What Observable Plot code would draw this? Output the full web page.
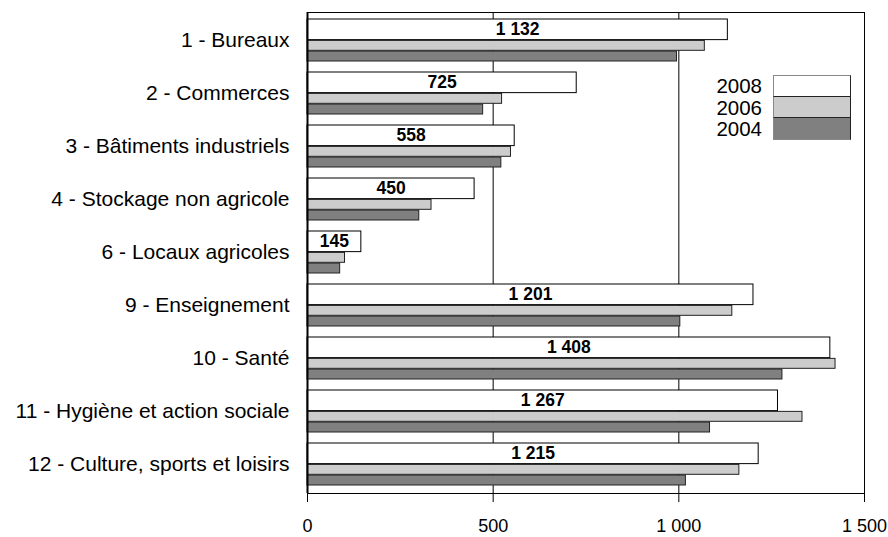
<!DOCTYPE html>
<html>
<head>
<meta charset="utf-8">
<script src="https://cdn.jsdelivr.net/npm/d3@7"></script>
<script src="https://cdn.jsdelivr.net/npm/@observablehq/plot@0.6"></script>
<style>
  html, body { margin: 0; padding: 0; background: #fff; }
  #wrap { position: relative; width: 888px; height: 537px; font-family: "Liberation Sans", Arial, Helvetica, sans-serif; }
  #legend { position: absolute; left: 700px; top: 75px; }
  .lrow { display: flex; align-items: center; height: 21.4px; }
  .ltxt { width: 62px; text-align: right; font-size: 20.5px; padding-right: 11px; color: #000; line-height: 21px; }
  .lsw { width: 76px; height: 20.4px; border-left: 1px solid #888; border-right: 1px solid #222; border-top: 1px solid #222; box-sizing: content-box; }
</style>
</head>
<body>
<div id="wrap"></div>
<script>
const categories = [
  "1 - Bureaux",
  "2 - Commerces",
  "3 - Bâtiments industriels",
  "4 - Stockage non agricole",
  "6 - Locaux agricoles",
  "9 - Enseignement",
  "10 - Santé",
  "11 - Hygiène et action sociale",
  "12 - Culture, sports et loisirs"
];
const v2008 = [1132, 725, 558, 450, 145, 1201, 1408, 1267, 1215];
const v2006 = [1070, 524, 548, 334, 101, 1144, 1422, 1333, 1163];
const v2004 = [995, 473, 522, 301, 88, 1004, 1279, 1084, 1019];
const years = ["2008", "2006", "2004"];
const colors = ["#ffffff", "#cccccc", "#808080"];
const xTicks = [0, 500, 1000, 1500];

const W = 888, H = 537;
const mTop = 12, mBottom = 44, mLeft = 307, mRight = 24;
const padIn = 0.2, padOut = 0.1;
const step = (H - mTop - mBottom) / (categories.length - padIn + 2 * padOut);
const bw = step * (1 - padIn);

const locale = d3.formatLocale({decimal: ",", thousands: "\u00a0", grouping: [3], currency: ["", " €"]});
const fmt = locale.format(",d");

const rows = categories.map((c, i) => ({cat: c, a: v2008[i], b: v2006[i], c4: v2004[i]}));

const chart = Plot.plot({
  width: W,
  height: H,
  marginTop: mTop,
  marginBottom: mBottom,
  marginLeft: mLeft,
  marginRight: mRight,
  style: {fontFamily: "'Liberation Sans', Arial, Helvetica, sans-serif", background: "#fff", color: "#000"},
  x: {domain: [0, 1500], ticks: xTicks, tickFormat: fmt},
  y: {domain: categories, paddingInner: padIn, paddingOuter: padOut},
  marks: [
    Plot.ruleX([500, 1000], {stroke: "#000", strokeWidth: 1}),
    Plot.barX(rows, {y: "cat", x: "c4", fill: colors[2], stroke: "#222", strokeWidth: 1, insetTop: bw * 0.75, insetBottom: 0}),
    Plot.barX(rows, {y: "cat", x: "b", fill: colors[1], stroke: "#222", strokeWidth: 1, insetTop: bw * 0.5, insetBottom: bw * 0.25}),
    Plot.barX(rows, {y: "cat", x: "a", fill: colors[0], stroke: "#000", strokeWidth: 1, insetTop: 0, insetBottom: bw * 0.5}),
    Plot.text(rows, {y: "cat", x: d => d.a / 2, text: d => fmt(d.a), dy: -bw / 4, fontWeight: "bold", fontSize: 17.5, fill: "#000"}),
    Plot.frame({stroke: "#000", strokeWidth: 1}),
    Plot.ruleX([0], {stroke: "#000", strokeWidth: 2}),
    Plot.axisX({ticks: xTicks, tickFormat: fmt, tickSize: 9, tickPadding: 17, fontSize: 18, label: null, stroke: "#000"}),
    Plot.axisY({tickSize: 0, tickPadding: 18, fontSize: 21, label: null})
  ]
});

const wrap = document.getElementById("wrap");
wrap.appendChild(chart);

const legend = document.createElement("div");
legend.id = "legend";
years.forEach((y, i) => {
  const row = document.createElement("div");
  row.className = "lrow";
  const t = document.createElement("div");
  t.className = "ltxt";
  t.textContent = y;
  const s = document.createElement("div");
  s.className = "lsw";
  s.style.background = colors[i];
  if (i === 0) s.style.borderTop = "1px solid #888";
  if (i === years.length - 1) s.style.borderBottom = "1px solid #888";
  row.appendChild(t);
  row.appendChild(s);
  legend.appendChild(row);
});
wrap.appendChild(legend);
</script>
</body>
</html>
